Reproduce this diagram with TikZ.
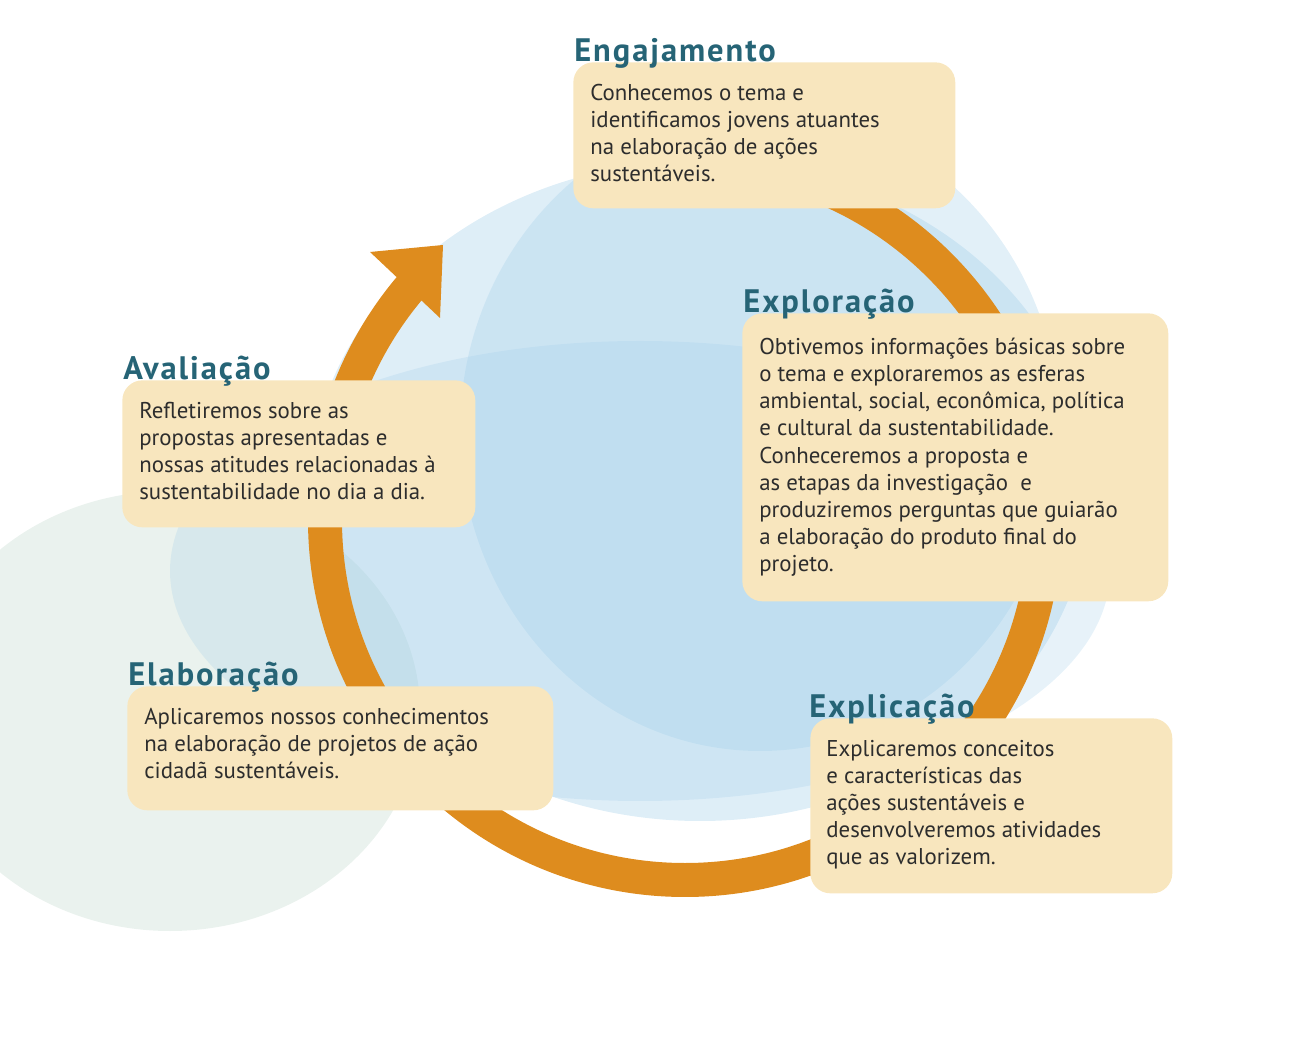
\documentclass[tikz,border=0pt]{standalone}
\usepackage{fontspec}
\setmainfont{PT Sans}
\newfontfamily\stagefont[LetterSpace=6]{PT Sans Bold}
\definecolor{ringorange}{RGB}{222,140,30}
\definecolor{boxfill}{RGB}{248,230,190}
\definecolor{titleteal}{RGB}{38,100,118}
\definecolor{bodygray}{RGB}{45,45,45}
\definecolor{splashblue}{RGB}{160,205,232}
\definecolor{splashgreen}{RGB}{195,218,205}
\tikzset{
  box/.style={fill=boxfill, rounded corners=0.4cm, anchor=north west, inner sep=0pt},
  title/.style={text=titleteal, font=\fontsize{18.5}{19}\stagefont, anchor=base west, inner sep=0pt},
  txt/.style={text=bodygray, font=\fontsize{13}{15.4}\selectfont, anchor=north west, inner sep=0pt, align=left},
  ring/.style={draw=ringorange, line width=0.68cm}
}
\begin{document}
\begin{tikzpicture}[x=0.02cm,y=0.02cm]
  \useasboundingbox (0,0) rectangle (1290,1051);
  % watercolour background
  \fill[splashgreen, opacity=0.35] (170,340) ellipse [x radius=250, y radius=220];
  \fill[splashblue, opacity=0.35] (700,560) ellipse [x radius=390, y radius=330];
  \fill[splashblue, opacity=0.25] (640,480) ellipse [x radius=470, y radius=230];
  \fill[splashblue, opacity=0.3] (760,620) ellipse [x radius=300, y radius=320];

  % cycle ring
  \draw[ring] (685,891) arc[start angle=90, end angle=-222, radius=360];
  \fill[ringorange] (443,806) -- (370,799) -- (440,733) -- cycle;

  % stages
  \node[box, minimum width=7.64cm, minimum height=2.92cm] (eng) at (573,989) {};
  \node[title] (engT) at ([shift={(1,0)}]eng.north west) {Engajamento};
  \node[txt] (engX) at ([shift={(17,-22)}]eng.north west) {Conhecemos o tema e\\identificamos jovens atuantes\\na elaboração de ações\\sustentáveis.};

  \node[box, minimum width=8.52cm, minimum height=5.76cm] (exp) at (742,738) {};
  \node[title] (expT) at ([shift={(1,0)}]exp.north west) {Exploração};
  \node[txt] (expX) at ([shift={(17,-25)}]exp.north west) {Obtivemos informações básicas sobre\\o tema e exploraremos as esferas\\ambiental, social, econômica, política\\e cultural da sustentabilidade.\\Conheceremos a proposta e\\as etapas da investigação\ \ e\\produziremos perguntas que guiarão\\a elaboração do produto final do\\projeto.};

  \node[box, minimum width=7.06cm, minimum height=2.94cm] (ava) at (122,671) {};
  \node[title] (avaT) at ([shift={(1,0)}]ava.north west) {Avaliação};
  \node[txt] (avaX) at ([shift={(17,-22)}]ava.north west) {Refletiremos sobre as\\propostas apresentadas e\\nossas atitudes relacionadas à\\sustentabilidade no dia a dia.};

  \node[box, minimum width=8.52cm, minimum height=2.48cm] (ela) at (127,365) {};
  \node[title] (elaT) at ([shift={(1,0)}]ela.north west) {Elaboração};
  \node[txt] (elaX) at ([shift={(17,-22)}]ela.north west) {Aplicaremos nossos conhecimentos\\na elaboração de projetos de ação\\cidadã sustentáveis.};

  \node[box, minimum width=7.24cm, minimum height=3.5cm] (expl) at (810,333) {};
  \node[title] (explT) at ([shift={(-1,0)}]expl.north west) {Explicação};
  \node[txt] (explX) at ([shift={(16,-22)}]expl.north west) {Explicaremos conceitos\\e características das\\ações sustentáveis e\\desenvolveremos atividades\\que as valorizem.};
\end{tikzpicture}
\end{document}
